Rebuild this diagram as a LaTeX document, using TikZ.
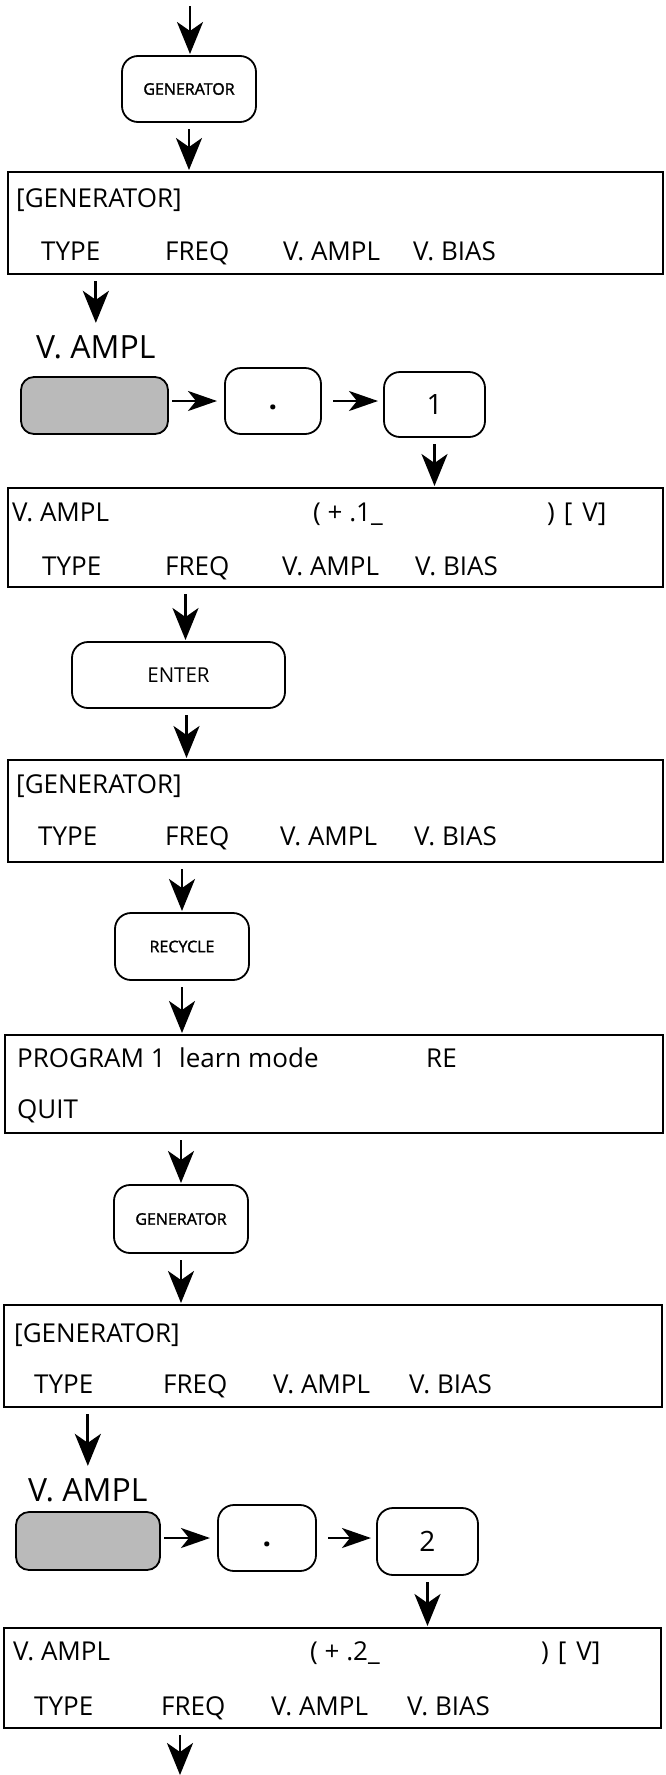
\documentclass[tikz,border=0pt]{standalone}
\usepackage{fontspec}
\setmainfont{Open Sans}
\newfontfamily\keyfont{Open Sans}[FakeBold=1.6]
\usetikzlibrary{arrows.meta}
\tikzset{
  disp/.style={draw, line width=1.4pt, anchor=north west, inner sep=0pt, outer sep=0pt},
  dtxt/.style={anchor=base west, inner sep=0pt, font=\fontsize{26}{30}\selectfont},
  keybox/.style={draw, line width=1.8pt, rounded corners=16pt, inner sep=0pt, outer sep=0pt, anchor=north west},
  smalltxt/.style={font=\keyfont\fontsize{16}{19}\selectfont},
  midtxt/.style={font=\fontsize{20.5}{24}\selectfont},
  dottxt/.style={font=\bfseries\fontsize{30}{34}\selectfont},
  bigtxt/.style={font=\fontsize{28}{32}\selectfont},
  shadebox/.style={keybox, fill=black!27, rounded corners=13pt},
  lbl/.style={anchor=base west, inner sep=0pt, font=\fontsize{32}{36}\selectfont},
  arr/.style={line width=2.8pt, -{Stealth[length=32pt 0 0,width=26pt 0 0,inset=9pt 0]}, shorten <=7pt, shorten >=2pt},
  harr/.style={line width=2.8pt, -{Stealth[length=29pt 0 0,width=20pt 0 0,inset=8pt 0]}, shorten <=4pt, shorten >=8pt},
}
\begin{document}
\begin{tikzpicture}[x=1pt,y=-1pt]
\useasboundingbox (0,0) rectangle (665,1775);

% ---- top
\coordinate (start) at (190,6);
\node[keybox, minimum width=134pt, minimum height=66pt, smalltxt] (gen1) at (122,56) {GENERATOR};

\node[disp, minimum width=655pt, minimum height=102pt] (b1) at (8,172) {};
\node[dtxt] (b1t) at (16,207) {[GENERATOR]};
\node[dtxt] (b1a) at (41,260) {TYPE};
\node[dtxt] (b1b) at (165,260) {FREQ};
\node[dtxt] (b1c) at (283,260) {V. AMPL};
\node[dtxt] (b1d) at (413,260) {V. BIAS};

% ---- V. AMPL . 1
\node[lbl] (l1) at (36,358) {V. AMPL};
\node[shadebox, minimum width=147pt, minimum height=57pt] (s1) at (21,377) {};
\node[keybox, minimum width=96pt, minimum height=66pt, dottxt] (d1) at (225,368) {\rule{0pt}{18pt}.};
\node[keybox, minimum width=101pt, minimum height=65pt, bigtxt] (k1) at (384,372) {1};

\node[disp, minimum width=655pt, minimum height=99pt] (b2) at (8,488) {};
\node[dtxt] (b2t) at (12,521) {V. AMPL};
\node[dtxt] (b2u) at (313,521) {( + .1\_};
\node[dtxt] (b2v) at (547,521) {)\hspace{9pt}[\hspace{10pt}V]};
\node[dtxt] (b2a) at (42,575) {TYPE};
\node[dtxt] (b2b) at (165,575) {FREQ};
\node[dtxt] (b2c) at (282,575) {V. AMPL};
\node[dtxt] (b2d) at (415,575) {V. BIAS};

% ---- ENTER
\node[keybox, minimum width=213pt, minimum height=66pt, midtxt] (ent) at (72,642) {ENTER};

\node[disp, minimum width=655pt, minimum height=102pt] (b3) at (8,760) {};
\node[dtxt] (b3t) at (16,793) {[GENERATOR]};
\node[dtxt] (b3a) at (38,845) {TYPE};
\node[dtxt] (b3b) at (165,845) {FREQ};
\node[dtxt] (b3c) at (280,845) {V. AMPL};
\node[dtxt] (b3d) at (414,845) {V. BIAS};

% ---- RECYCLE
\node[keybox, minimum width=134pt, minimum height=67pt, smalltxt] (rec) at (115,913) {RECYCLE};

\node[disp, minimum width=658pt, minimum height=98pt] (b4) at (5,1035) {};
\node[dtxt] (b4t) at (17,1067) {PROGRAM 1\ \ learn mode};
\node[dtxt] (b4r) at (426,1067) {RE};
\node[dtxt] (b4q) at (17,1118) {QUIT};

% ---- GENERATOR again
\node[keybox, minimum width=134pt, minimum height=68pt, smalltxt] (gen2) at (114,1185) {GENERATOR};

\node[disp, minimum width=658pt, minimum height=102pt] (b5) at (4,1305) {};
\node[dtxt] (b5t) at (14,1342) {[GENERATOR]};
\node[dtxt] (b5a) at (34,1393) {TYPE};
\node[dtxt] (b5b) at (163,1393) {FREQ};
\node[dtxt] (b5c) at (273,1393) {V. AMPL};
\node[dtxt] (b5d) at (409,1393) {V. BIAS};

% ---- V. AMPL . 2
\node[lbl] (l2) at (28,1501) {V. AMPL};
\node[shadebox, minimum width=144pt, minimum height=58pt] (s2) at (16,1512) {};
\node[keybox, minimum width=98pt, minimum height=66pt, dottxt] (d2) at (218,1505) {\rule{0pt}{18pt}.};
\node[keybox, minimum width=101pt, minimum height=67pt, bigtxt] (k2) at (377,1508) {2};

\node[disp, minimum width=657pt, minimum height=100pt] (b6) at (4,1628) {};
\node[dtxt] (b6t) at (13,1660) {V. AMPL};
\node[dtxt] (b6u) at (310,1660) {( + .2\_};
\node[dtxt] (b6v) at (541,1660) {)\hspace{9pt}[\hspace{10pt}V]};
\node[dtxt] (b6a) at (34,1715) {TYPE};
\node[dtxt] (b6b) at (161,1715) {FREQ};
\node[dtxt] (b6c) at (271,1715) {V. AMPL};
\node[dtxt] (b6d) at (407,1715) {V. BIAS};
\coordinate (finish) at (180,1775);

% ---- connectors
\draw[arr, shorten <=0pt] (start) -- (start |- gen1.north);
\draw[arr] (gen1.south) -- (gen1.south |- b1.north);
\draw[arr, shorten >=12pt] (l1.north |- b1.south) -- (l1.north);
\draw[harr] (d1.west -| s1.east) -- (d1.west);
\draw[harr, shorten <=12pt, shorten >=6pt] (d1.east) -- (d1.east -| k1.west);
\draw[arr] (k1.south) -- (k1.south |- b2.north);
\draw[arr] ([xshift=7pt]b2.south -| ent.north) -- ([xshift=7pt]ent.north);
\draw[arr] ([xshift=8pt]ent.south) -- ([xshift=8pt]ent.south |- b3.north);
\draw[arr] (b3.south -| rec.north) -- (rec.north);
\draw[arr] (rec.south) -- (rec.south |- b4.north);
\draw[arr] (b4.south -| gen2.north) -- (gen2.north);
\draw[arr] (gen2.south) -- (gen2.south |- b5.north);
\draw[arr, shorten >=12pt] (l2.north |- b5.south) -- (l2.north);
\draw[harr] (d2.west -| s2.east) -- (d2.west);
\draw[harr, shorten <=12pt, shorten >=6pt] (d2.east) -- (d2.east -| k2.west);
\draw[arr] (k2.south) -- (k2.south |- b6.north);
\draw[arr, shorten >=0pt] (b6.south -| finish) -- (finish);
\end{tikzpicture}
\end{document}
